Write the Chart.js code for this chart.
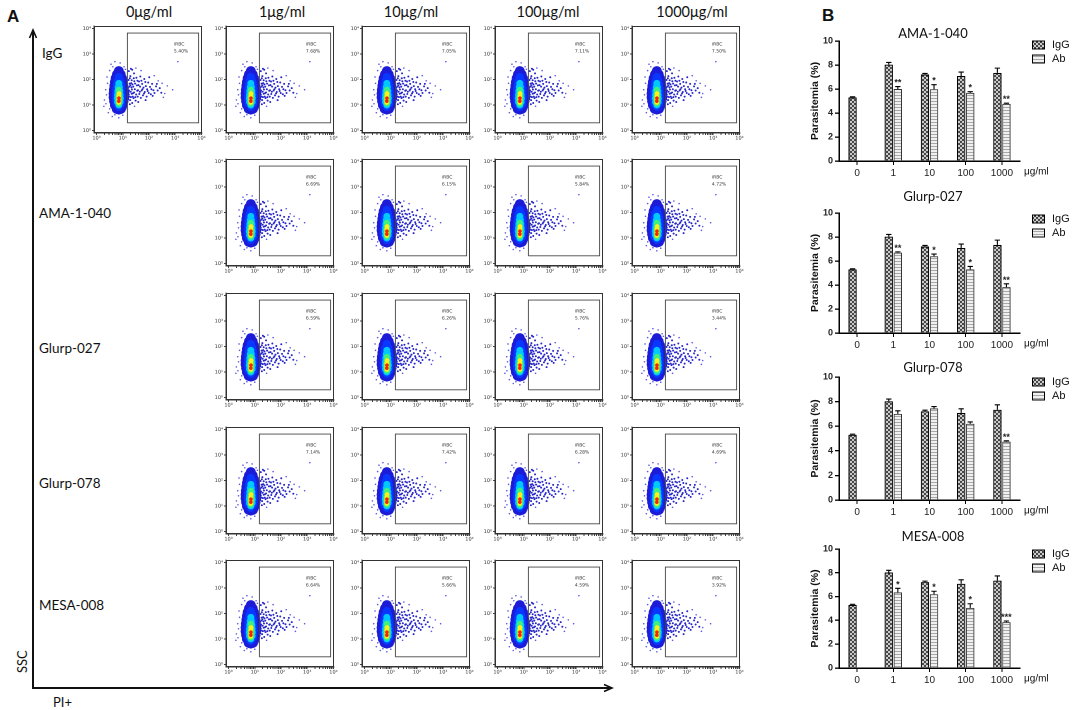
<!DOCTYPE html>
<html><head><meta charset="utf-8">
<script src="https://cdn.jsdelivr.net/npm/chart.js@4.4.1/dist/chart.umd.min.js"></script>
<style>
body{margin:0;width:1084px;height:710px;position:relative;background:#fff;overflow:hidden;font-family:Lato,'Liberation Sans',sans-serif;}
canvas{position:absolute;}
.t{position:absolute;white-space:nowrap;color:#111;line-height:1;}
.hdr{font-size:14.5px;transform:translateX(-50%);}
.row{font-size:13.5px;}
.pan{font-family:'Liberation Sans',Arial,sans-serif;font-weight:bold;font-size:17px;}
</style></head><body>
<svg width="1084" height="710" style="position:absolute;left:0;top:0">
  <line x1="33" y1="688" x2="33" y2="31" stroke="#111" stroke-width="2"/>
  <polyline points="29.5,38 33,30 36.5,38" fill="none" stroke="#111" stroke-width="1.6"/>
  <line x1="32" y1="688" x2="611" y2="688" stroke="#111" stroke-width="2"/>
  <polyline points="604,684.5 612,688 604,691.5" fill="none" stroke="#111" stroke-width="1.6"/>
</svg>
<div id="labels"></div>
<script>
// ---------------- DATA ----------------
const concLabels = ['0μg/ml','1μg/ml','10μg/ml','100μg/ml','1000μg/ml'];
const rowNames = ['IgG','AMA-1-040','Glurp-027','Glurp-078','MESA-008'];
const gatePctIgG      = ['5.40%','7.68%','7.05%','7.11%','7.50%'];
const gatePctAMA      = [null,'6.69%','6.15%','5.84%','4.72%'];
const gatePctGlurp027 = [null,'6.59%','6.26%','5.76%','3.44%'];
const gatePctGlurp078 = [null,'7.14%','7.42%','6.28%','4.69%'];
const gatePctMESA     = [null,'6.64%','5.66%','4.59%','3.92%'];
const flowTickValues = [1,10,100,1000,10000];
const gateX = [15, 7800];
const gateY = [2.0, 6600];
const gateName = 'iRBC';
// event cloud shape, [log10 PI, log10 SSC]
const cloudRed    = [[0.85,1.15],[0.855,1.27]];
const cloudYellow = [[0.85,1.1],[0.85,1.22],[0.85,1.34],[0.86,1.45]];
const cloudGreen  = [[0.85,1.05],[0.83,1.18],[0.88,1.18],[0.83,1.32],[0.88,1.32],[0.85,1.46],[0.85,1.6]];
const cloudCyan   = [[0.85,1.0],[0.8,1.12],[0.9,1.12],[0.79,1.26],[0.91,1.26],[0.8,1.4],[0.9,1.4],[0.81,1.55],[0.89,1.55],[0.83,1.7],[0.87,1.7],[0.85,1.85]];
const cloudBlue   = [[0.85,0.92],[0.76,1.05],[0.94,1.05],[0.74,1.2],[0.96,1.2],[0.73,1.35],[0.97,1.35],[0.74,1.5],[0.96,1.5],[0.75,1.65],[0.95,1.65],[0.77,1.8],[0.93,1.8],[0.8,1.95],[0.9,1.95],[0.85,2.1],[0.85,1.5]];
const cloudEdge   = [[0.77,0.85],[0.85,0.82],[0.93,0.85],[0.7,1.0],[0.85,1.0],[1.0,1.0],[0.67,1.15],[0.85,1.15],[1.03,1.15],
  [0.65,1.3],[0.85,1.3],[1.05,1.3],[0.65,1.45],[0.85,1.45],[1.05,1.45],[0.66,1.6],[0.85,1.6],[1.04,1.6],[0.68,1.75],[0.85,1.75],[1.02,1.75],
  [0.7,1.9],[0.85,1.9],[1.0,1.9],[0.73,2.05],[0.85,2.05],[0.97,2.05],[0.78,2.2],[0.92,2.2],[0.85,2.33]];
const cloudTail   = [[1.21,1.23],[1.24,1.57],[1.26,1.84],[1.29,2.13],[1.31,1.31],[1.33,1.69],[1.34,1.97],[1.36,1.08],[1.39,1.46],[1.37,1.81],
  [1.43,2.24],[1.41,1.27],[1.46,1.62],[1.44,1.93],[1.49,1.17],[1.51,1.41],[1.54,1.77],[1.52,2.07],[1.57,1.33],[1.58,1.58],[1.62,1.92],
  [1.63,1.43],[1.66,1.72],[1.67,2.12],[1.69,1.28],[1.72,1.57],[1.74,1.83],[1.77,1.38],[1.79,1.68],[1.82,2.02],[1.84,1.51],[1.88,1.74],
  [1.91,1.33],[1.93,1.62],[1.97,1.88],[1.99,1.47],[2.04,1.71],[2.07,1.42],[2.12,1.83],[2.17,1.58],[2.21,1.47],[2.27,1.73],[2.33,1.57],
  [2.41,1.66],[2.47,1.48],[1.23,2.33],[1.36,2.38],[1.59,1.12],[1.87,1.19],[2.01,2.09],[1.2,1.67],[1.22,1.98],[1.27,1.03],[1.31,2.42],
  [1.23,1.41],[1.25,1.72],[1.28,1.19],[1.3,1.52],[1.32,1.86],[1.35,1.61],[1.38,1.33],[1.4,1.72],[1.43,1.49],[1.47,1.84],[1.48,1.31],
  [1.55,1.56],[1.6,1.78],[1.65,1.52],[1.71,1.95],[1.75,1.62],[1.81,1.45],[1.86,1.9],[1.95,1.55],[2.09,1.62],[2.3,1.83],[2.14,1.36],
  [1.42,2.05],[1.56,1.95],[1.22,1.5],[1.26,1.33],[1.29,1.77],[1.34,1.44],[1.27,2.05]];
const cloudSpeckle= [[0.3,1.2],[0.35,1.6],[0.28,0.95],[0.4,2.1],[0.45,0.7],[0.55,2.6],[0.7,2.7],[0.9,2.65],[1.05,2.5],[0.6,0.55],[0.85,0.5],[1.0,0.6],
  [0.38,1.4],[0.42,1.85],[0.36,1.05],[0.5,2.35],[0.62,2.5],[1.1,2.4],[0.5,0.85],[0.7,0.62],[0.95,0.7],[1.12,0.85],
  [2.6,1.45],[2.9,1.6],[3.1,2.7],[2.35,1.95],[2.5,1.85],[2.55,1.3],[2.7,1.75],[1.5,2.45],[1.7,2.35],[1.45,0.95],[2.2,2.15]];

const barCategories = ['0','1','10','100','1000'];
const barUnit = 'μg/ml';
const igGMean = [5.3, 8.03, 7.22, 7.08, 7.34];
const igGErr  = [0.05, 0.18, 0.08, 0.33, 0.4];
const amaAbMean = [null, 6.0, 5.98, 5.68, 4.76];
const amaAbErr  = [null, 0.2, 0.38, 0.1, 0.06];
const amaStars  = ['', '**', '*', '*', '**'];
const g027AbMean = [null, 6.7, 6.4, 5.3, 3.82];
const g027AbErr  = [null, 0.06, 0.18, 0.25, 0.28];
const g027Stars  = ['', '**', '*', '*', '**'];
const g078AbMean = [null, 7.0, 7.45, 6.2, 4.75];
const g078AbErr  = [null, 0.25, 0.15, 0.15, 0.06];
const g078Stars  = ['', '', '', '', '**'];
const mesaAbMean = [null, 6.35, 6.2, 5.05, 3.85];
const mesaAbErr  = [null, 0.35, 0.25, 0.35, 0.1];
const mesaStars  = ['', '*', '*', '*', '***'];
const barTitles = ['AMA-1-040','Glurp-027','Glurp-078','MESA-008'];
const legendNames = ['IgG','Ab'];
const yAxisTitle = 'Parasitemia (%)';

// ---------------- LAYOUT ----------------
const colLeft = [94, 226, 362, 495, 632];
const rowTop = [23, 156, 290, 424, 557];
const boxW = 110, boxH = 110;
const hdrX = [149, 282, 411, 548, 692];
const rowLabelPos = [[42,47],[39,207],[39,342],[39,477],[39,599]];
const barTop = [41, 213, 377, 549];
const barBottom = [161, 333, 500, 668];
const barTitleY = [34, 197, 368, 537];
const barLegendY = [45, 219, 382, 554];

const labels = document.getElementById('labels');
function addText(txt, x, y, cls, extra){
  const d = document.createElement('div');
  d.className = 't ' + cls; d.textContent = txt;
  d.style.left = x + 'px'; d.style.top = y + 'px';
  if (extra) Object.assign(d.style, extra);
  labels.appendChild(d);
}
addText('A', 7, 8, 'pan');
addText('B', 822, 7, 'pan');
concLabels.forEach((c,i)=>addText(c, hdrX[i], 5, 'hdr'));
rowNames.forEach((r,i)=>addText(r, rowLabelPos[i][0], rowLabelPos[i][1], 'row'));
addText('SSC', 16, 673, 'row', {transform:'rotate(-90deg)', transformOrigin:'left top', fontSize:'13px'});
addText('PI+', 53, 696, 'row', {fontSize:'13px'});

const SUP = ['⁰','¹','²','³','⁴'];
function powLabel(v){
  const e = Math.round(Math.log10(v));
  return Math.abs(Math.pow(10,e) - v) < 1e-6*v ? '10' + SUP[e] : '';
}
const toPts = arr => arr.map(p => ({x: Math.pow(10,p[0]), y: Math.pow(10,p[1])}));

function flowChart(row, col, pct){
  const cv = document.createElement('canvas');
  const W = boxW + 17, H = boxH + 12;
  cv.style.left = (colLeft[col]-14) + 'px';
  cv.style.top = (rowTop[row]-2) + 'px';
  cv.style.width = W + 'px'; cv.style.height = H + 'px';
  cv.width = W; cv.height = H;
  document.body.appendChild(cv);
  const gatePts = [{x:gateX[0],y:gateY[0]},{x:gateX[1],y:gateY[0]},{x:gateX[1],y:gateY[1]},{x:gateX[0],y:gateY[1]},{x:gateX[0],y:gateY[0]}];
  const pd = (data, r, c) => ({data: toPts(data), pointRadius: r, pointHoverRadius: r, backgroundColor: c, borderWidth: 0, pointBorderWidth: 0});
  const framePlugin = {
    id: 'frame' + row + col,
    afterDraw(chart){
      const a = chart.chartArea, ctx = chart.ctx;
      ctx.save();
      ctx.strokeStyle = '#333'; ctx.lineWidth = 1;
      ctx.strokeRect(a.left+0.5, a.top+0.5, a.right-a.left-1, a.bottom-a.top-1);
      const xs = chart.scales.x, ys = chart.scales.y;
      ctx.fillStyle = '#333';
      ctx.font = '4.5px "DejaVu Sans"';
      ctx.textAlign = 'left'; ctx.textBaseline = 'middle';
      const tx = xs.getPixelForValue(Math.pow(10,2.95));
      ctx.fillText(gateName, tx, ys.getPixelForValue(Math.pow(10,3.38)));
      ctx.fillText(pct, tx, ys.getPixelForValue(Math.pow(10,3.1)));
      ctx.restore();
    }
  };
  new Chart(cv, {
    type: 'scatter',
    data: { datasets: [
      {type:'line', data: gatePts, borderColor:'#444', borderWidth:0.9, pointRadius:0, fill:false, showLine:true, tension:0},
      pd(cloudRed, 1.8, '#ff2200'),
      pd(cloudYellow, 2.4, '#ffee1a'),
      pd(cloudGreen, 3, '#40f07a'),
      pd(cloudCyan, 3.5, '#00c8ff'),
      pd(cloudBlue, 4, '#0838ff'),
      pd(cloudEdge, 5, '#1c1cd8'),
      pd(cloudTail, 1.0, '#2626c8'),
      pd(cloudSpeckle, 0.8, '#5a5ae6')
    ]},
    options: {
      responsive:false, animation:false, devicePixelRatio:2,
      events: [],
      layout:{padding:{top:2,right:3,left:0,bottom:0}},
      plugins:{legend:{display:false}, tooltip:{enabled:false}},
      scales:{
        x:{type:'logarithmic', min:0.8, max:10500,
          afterBuildTicks: s => { const t=[]; [1,10,100,1000].forEach(d=>{for(let k=1;k<10;k++) t.push({value:d*k});}); t.push({value:10000}); s.ticks = t; },
          afterFit: s => { s.height = 10; },
          ticks:{autoSkip:false, maxRotation:0, padding:0, color:'#333', font:{size:5, family:'DejaVu Sans'}, callback: v => powLabel(v)},
          grid:{drawOnChartArea:false, tickLength:2, color:'#444'},
          border:{color:'#333', width:1}},
        y:{type:'logarithmic', min:0.8, max:12500,
          afterBuildTicks: s => { s.ticks = flowTickValues.map(v=>({value:v})); },
          afterFit: s => { s.width = 14; },
          ticks:{autoSkip:false, padding:1, color:'#333', font:{size:5, family:'DejaVu Sans'}, callback: v => powLabel(v)},
          grid:{drawOnChartArea:false, tickLength:2, color:'#444'},
          border:{color:'#333', width:1}}
      }
    },
    plugins:[framePlugin]
  });
}

const gateRows = [gatePctIgG, gatePctAMA, gatePctGlurp027, gatePctGlurp078, gatePctMESA];
gateRows.forEach((arr, r) => arr.forEach((p, c) => { if (p) flowChart(r, c, p); }));

// ---------------- BAR CHARTS ----------------
function makePattern(kind){
  const c = document.createElement('canvas');
  if (kind === 'check'){
    c.width = 4; c.height = 4;
    const x = c.getContext('2d');
    x.fillStyle = '#fff'; x.fillRect(0,0,4,4);
    x.fillStyle = '#151515'; x.fillRect(0,0,2,2); x.fillRect(2,2,2,2);
  } else {
    c.width = 4; c.height = 3;
    const x = c.getContext('2d');
    x.fillStyle = '#fff'; x.fillRect(0,0,4,3);
    x.fillStyle = '#8c8c8c'; x.fillRect(0,1,4,1);
  }
  return c;
}
const checkSrc = makePattern('check'), stripeSrc = makePattern('stripe');

const abMeans = [amaAbMean, g027AbMean, g078AbMean, mesaAbMean];
const abErrs = [amaAbErr, g027AbErr, g078AbErr, mesaAbErr];
const abStars = [amaStars, g027Stars, g078Stars, mesaStars];

function barChart(k){
  const padTop = 40, xh = 22;
  const plotH = barBottom[k] - barTop[k];
  const W = 284, H = padTop + plotH + xh;
  const cv = document.createElement('canvas');
  cv.style.left = '800px'; cv.style.top = (barTop[k]-padTop) + 'px';
  cv.style.width = W+'px'; cv.style.height = H+'px';
  cv.width = W; cv.height = H;
  document.body.appendChild(cv);
  const ctx0 = cv.getContext('2d');
  const checkPat = ctx0.createPattern(checkSrc, 'repeat');
  const stripePat = ctx0.createPattern(stripeSrc, 'repeat');
  const errs = [igGErr, abErrs[k]];
  const stars = abStars[k];
  const deco = {
    id: 'deco' + k,
    afterDatasetsDraw(chart){
      const ctx = chart.ctx, ys = chart.scales.y, a = chart.chartArea;
      ctx.save();
      ctx.strokeStyle = '#000'; ctx.lineWidth = 1.1;
      chart.data.datasets.forEach((ds, di) => {
        const meta = chart.getDatasetMeta(di);
        ds.data.forEach((v, i) => {
          if (v == null) return;
          const bar = meta.data[i];
          const e = errs[di][i];
          const yt = ys.getPixelForValue(v + e);
          const hw = bar.width * 0.32;
          ctx.beginPath();
          ctx.moveTo(bar.x, bar.y); ctx.lineTo(bar.x, yt);
          ctx.moveTo(bar.x - hw, yt); ctx.lineTo(bar.x + hw, yt);
          ctx.stroke();
          if (di === 1 && stars[i]){
            ctx.fillStyle = '#222';
            ctx.font = 'bold 9px "Liberation Sans"';
            ctx.textAlign = 'center'; ctx.textBaseline = 'alphabetic';
            ctx.fillText(stars[i], bar.x, yt - 1);
          }
        });
      });
      ctx.fillStyle = '#111';
      ctx.font = '13px Lato';
      ctx.textAlign = 'center'; ctx.textBaseline = 'middle';
      ctx.fillText(barTitles[k], 133, barTitleY[k] - barTop[k] + padTop);
      ctx.font = '10px "Liberation Sans"';
      ctx.textAlign = 'left';
      ctx.fillText(barUnit, a.right + 4, a.bottom + 10.5);
      const pats = [checkPat, stripePat];
      legendNames.forEach((n, li) => {
        const ly = barLegendY[k] - barTop[k] + padTop + li * 14;
        ctx.fillStyle = pats[li];
        ctx.fillRect(232, ly - 4.5, 13, 9);
        ctx.strokeStyle = '#000'; ctx.lineWidth = 1;
        ctx.strokeRect(232.5, ly - 4, 12, 8);
        ctx.fillStyle = '#111';
        ctx.font = '11px "Liberation Sans"';
        ctx.textAlign = 'left'; ctx.textBaseline = 'middle';
        ctx.fillText(n, 252, ly);
      });
      ctx.restore();
    }
  };
  new Chart(cv, {
    type: 'bar',
    data: {
      labels: barCategories,
      datasets: [
        {label: legendNames[0], data: igGMean, backgroundColor: checkPat, borderColor:'#000', borderWidth:1.1, categoryPercentage:0.5, barPercentage:0.92},
        {label: legendNames[1], data: abMeans[k], backgroundColor: stripePat, borderColor:'#333', borderWidth:1, categoryPercentage:0.5, barPercentage:0.92}
      ]
    },
    options: {
      responsive:false, animation:false, devicePixelRatio:2, events: [],
      layout:{padding:{top:padTop, right:64, left:0, bottom:0}},
      plugins:{legend:{display:false}, tooltip:{enabled:false}, title:{display:false}},
      scales:{
        x:{afterFit: s => { s.height = xh; },
           ticks:{color:'#222', padding:2, font:{size:10, family:'Liberation Sans'}},
           grid:{drawOnChartArea:false, offset:false, tickLength:4, color:'#000'},
           border:{color:'#000', width:1.5}},
        y:{min:0, max:10, afterFit: s => { s.width = 39; },
           ticks:{stepSize:2, color:'#222', padding:2, font:{size:9, weight:'bold', family:'Liberation Sans'}},
           grid:{drawOnChartArea:false, tickLength:4, color:'#000', lineWidth:1.3},
           border:{color:'#000', width:1.5},
           title:{display:true, text:yAxisTitle, color:'#111', padding:{top:9,bottom:0}, font:{size:10.5, weight:'bold', family:'Liberation Sans'}}}
      }
    },
    plugins:[deco]
  });
}
[0,1,2,3].forEach(barChart);
</script>
</body></html>
